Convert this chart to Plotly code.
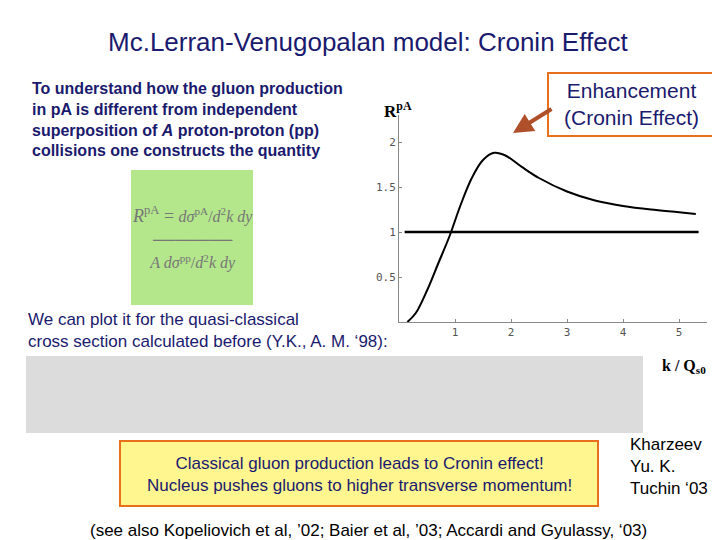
import plotly.graph_objects as go

# R^pA curve
kq = [0.15, 0.3, 0.5, 0.7, 0.9, 1.1, 1.3, 1.5, 1.7, 1.9, 2.2, 2.5, 3.0, 3.5, 4.0, 4.5, 5.0, 5.3]
rpa = [0.0, 0.1, 0.35, 0.65, 0.95, 1.3, 1.6, 1.8, 1.88, 1.85, 1.72, 1.6, 1.45, 1.35, 1.29, 1.25, 1.22, 1.2]
ref_x = [0.1, 5.35]
ref_y = [1, 1]
x_ticks = [1, 2, 3, 4, 5]
y_ticks = [0.5, 1, 1.5, 2]

W, H = 720, 540
def px(x):
    return x / W
def py(y):
    return 1 - y / H

fig = go.Figure()
fig.add_trace(go.Scatter(x=kq, y=rpa, mode="lines", line=dict(color="black", width=2), line_shape="spline"))
fig.add_trace(go.Scatter(x=ref_x, y=ref_y, mode="lines", line=dict(color="black", width=2.5)))

navy = "#1a1a6e"
fig.update_layout(
    width=W, height=H, margin=dict(l=0, r=0, t=0, b=0),
    paper_bgcolor="white", plot_bgcolor="white", showlegend=False,
    xaxis=dict(domain=[px(391), px(699)], range=[0, 5.5], tickvals=x_ticks,
               showgrid=False, zeroline=False, showline=True, linecolor="#888", ticks="inside",
               ticklen=3, tickcolor="#888", tickfont=dict(family="DejaVu Sans Mono", size=11, color="#555")),
    yaxis=dict(domain=[py(314), py(107)], range=[0, 2.3], tickvals=y_ticks,
               showgrid=False, zeroline=False, showline=True, linecolor="#888", ticks="inside",
               ticklen=3, tickcolor="#888", tickfont=dict(family="DejaVu Sans Mono", size=11, color="#555")),
    font=dict(family="Liberation Sans"),
)

shapes = [
    dict(type="rect", x0=px(123), x1=px(245), y0=py(297), y1=py(162), fillcolor="#b4e68c", line=dict(width=0), layer="below"),
    dict(type="rect", x0=px(540), x1=px(707), y0=py(128), y1=py(65), fillcolor="white", line=dict(color="#e8701c", width=2)),
    dict(type="rect", x0=px(18), x1=px(635), y0=py(425), y1=py(348), fillcolor="#dcdcdc", line=dict(width=0)),
    dict(type="rect", x0=px(112), x1=px(590), y0=py(498), y1=py(433), fillcolor="#fff68f", line=dict(color="#e8701c", width=2)),
]
for s in shapes:
    s["xref"] = "paper"; s["yref"] = "paper"
fig.update_layout(shapes=shapes)

def txt(x, y, t, size, color=navy, family="Liberation Sans", xanchor="left", align="left"):
    fig.add_annotation(x=px(x), y=py(y), xref="paper", yref="paper", text=t, showarrow=False,
                       font=dict(size=size, color=color, family=family), xanchor=xanchor, yanchor="middle", align=align)

txt(360, 34, "Mc.Lerran-Venugopalan model: Cronin Effect", 26, xanchor="center", align="center")
txt(22, 112, "<b>To understand how the gluon production<br>in pA is different from independent<br>"
    "superposition of <i>A</i> proton-proton (pp)<br>collisions one constructs the quantity</b>", 16)
txt(374, 102, "<b>R</b><sup><b>pA</b></sup>", 17, color="black", family="Liberation Serif")
txt(184, 229, "<i>R</i><sup>pA</sup> = <span style='font-size:16px'>"
    "<i>dσ</i><sup>pA</sup>/<i>d</i><sup>2</sup><i>k dy</i><br>───────<br><i>A dσ</i><sup>pp</sup>/<i>d</i><sup>2</sup><i>k dy</i></span>",
    18, color="#777", family="Liberation Serif", xanchor="center", align="center")
txt(623, 96, "Enhancement<br>(Cronin Effect)", 21, xanchor="center", align="center")
txt(18, 322, "We can plot it for the quasi-classical<br>cross section calculated before (Y.K., A. M. ‘98):", 17)
txt(652, 358, "<b>k / Q</b><sub><b>s0</b></sub>", 16, color="black", family="Liberation Serif")
txt(351, 466, "Classical gluon production leads to Cronin effect!<br>Nucleus pushes gluons to higher transverse momentum!",
    17, xanchor="center", align="center")
txt(620, 458, "Kharzeev<br>Yu. K.<br>Tuchin ‘03", 17, color="black")
txt(360, 522, "(see also Kopeliovich et al, ’02; Baier et al, ’03; Accardi and Gyulassy, ‘03)", 17, color="black", xanchor="center")

fig.add_annotation(x=px(505), y=py(125), ax=40, ay=-25, xref="paper", yref="paper",
                   text="", showarrow=True, arrowhead=2,
                   arrowwidth=4, arrowcolor="#b0502a")

fig.write_html("out.html")
